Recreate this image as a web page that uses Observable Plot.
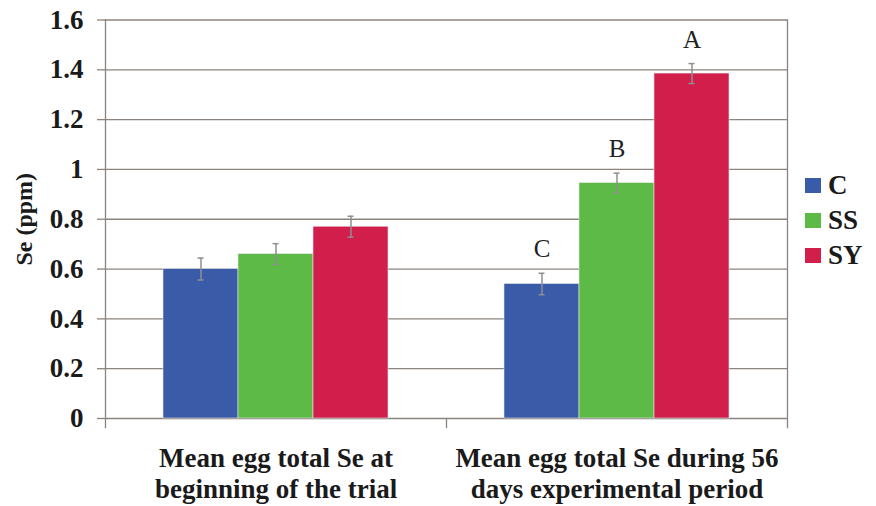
<!DOCTYPE html>
<html>
<head>
<meta charset="utf-8">
<script src="https://cdn.jsdelivr.net/npm/d3@7"></script>
<script src="https://cdn.jsdelivr.net/npm/@observablehq/plot@0.6"></script>
<style>
  html, body { margin: 0; padding: 0; background: #ffffff; }
  #wrap { position: relative; width: 876px; height: 506px; overflow: hidden; }
  #legend { position: absolute; left: 805px; top: 168px; font-family: "Liberation Serif", serif; font-weight: bold; font-size: 27px; color: #1a1a1a; }
  .row { position: relative; height: 35px; display: flex; align-items: center; }
  .sw { width: 16px; height: 15px; display: inline-block; margin-right: 7px; }
</style>
</head>
<body>
<div id="wrap"></div>
<script>
// ---- data ----
const categories = ["Mean egg total Se at\nbeginning of the trial", "Mean egg total Se during 56\ndays experimental period"];
const groups = ["C", "SS", "SY"];
const groupColors = ["#3A5BA8", "#5DBA46", "#D21E4B"];
const valuesStart = [0.60, 0.66, 0.77];
const errorsStart = [0.044, 0.042, 0.042];
const valuesEnd = [0.54, 0.945, 1.385];
const errorsEnd = [0.043, 0.040, 0.040];
const lettersEnd = ["C", "B", "A"];
const yTicks = [0, 0.2, 0.4, 0.6, 0.8, 1, 1.2, 1.4, 1.6];
const yLabel = "Se (ppm)";

// ---- table ----
const rows = [];
groups.forEach((g, j) => rows.push({cat: categories[0], group: g, v: valuesStart[j], e: errorsStart[j], letter: ""}));
groups.forEach((g, j) => rows.push({cat: categories[1], group: g, v: valuesEnd[j], e: errorsEnd[j], letter: lettersEnd[j]}));

const W = 876, H = 506, mTop = 19.5, mBottom = 88, mLeft = 105, mRight = 89;
const gridColor = "#8a837e";
const plotH = H - mTop - mBottom;

const chart = Plot.plot({
  width: W,
  height: H,
  marginTop: mTop,
  marginBottom: mBottom,
  marginLeft: mLeft,
  marginRight: mRight,
  style: {fontFamily: "'Liberation Serif', serif", fontWeight: "bold", fontSize: "27px", color: "#1a1a1a", background: "#ffffff", overflow: "visible"},
  fx: {domain: categories, paddingInner: 0, paddingOuter: 0, label: null},
  x: {domain: groups, paddingInner: 0, paddingOuter: 0.765, axis: null},
  y: {domain: [0, 1.6], axis: null},
  color: {domain: groups, range: groupColors},
  marks: [
    Plot.ruleY(yTicks, {stroke: gridColor, strokeWidth: 1.3}),
    Plot.barY(rows, {fx: "cat", x: "group", y: "v", fill: "group", stroke: "#e6e6e6", strokeWidth: 0.6}),
    Plot.ruleX(rows, {fx: "cat", x: "group", y1: d => d.v - d.e, y2: d => d.v + d.e, stroke: "#8f8f8f", strokeWidth: 1.5}),
    Plot.tickY(rows, {fx: "cat", x: "group", y: d => d.v + d.e, stroke: "#8f8f8f", strokeWidth: 1.5, insetLeft: 34.5, insetRight: 34.5}),
    Plot.tickY(rows, {fx: "cat", x: "group", y: d => d.v - d.e, stroke: "#8f8f8f", strokeWidth: 1.5, insetLeft: 34.5, insetRight: 34.5}),
    Plot.text(rows, {fx: "cat", x: "group", y: d => d.v + d.e, text: "letter", lineAnchor: "bottom", dy: -16, fontSize: 25, fontWeight: "normal", fill: "#222"}),
    Plot.frame({anchor: "left", facetAnchor: "left", stroke: gridColor, strokeWidth: 1.3, insetBottom: -9}),
    Plot.frame({anchor: "right", facetAnchor: "right", stroke: gridColor, strokeWidth: 1.3, insetBottom: -9}),
    Plot.frame({anchor: "right", facetAnchor: "left", stroke: gridColor, strokeWidth: 1.3, insetTop: plotH, insetBottom: -9}),
    Plot.axisY({facetAnchor: "left", ticks: yTicks, tickFormat: d => String(d), tickSize: 8, tickPadding: 14, stroke: gridColor, strokeWidth: 1.3, fontSize: 27, label: null}),
    Plot.axisY({facetAnchor: "left", ticks: [], tickSize: 0, fontSize: 24, label: yLabel, labelAnchor: "center", labelArrow: "none", labelOffset: 91}),
    Plot.axisFx({anchor: "bottom", tickSize: 0, tickPadding: 27, fontSize: 27, lineHeight: 1.13, label: null})
  ]
});

const wrap = document.getElementById("wrap");
wrap.appendChild(chart);

// legend
const legend = document.createElement("div");
legend.id = "legend";
groups.forEach((g, j) => {
  const row = document.createElement("div");
  row.className = "row";
  const sw = document.createElement("span");
  sw.className = "sw";
  sw.style.background = groupColors[j];
  const t = document.createElement("span");
  t.textContent = g;
  row.appendChild(sw);
  row.appendChild(t);
  legend.appendChild(row);
});
wrap.appendChild(legend);
</script>
</body>
</html>
